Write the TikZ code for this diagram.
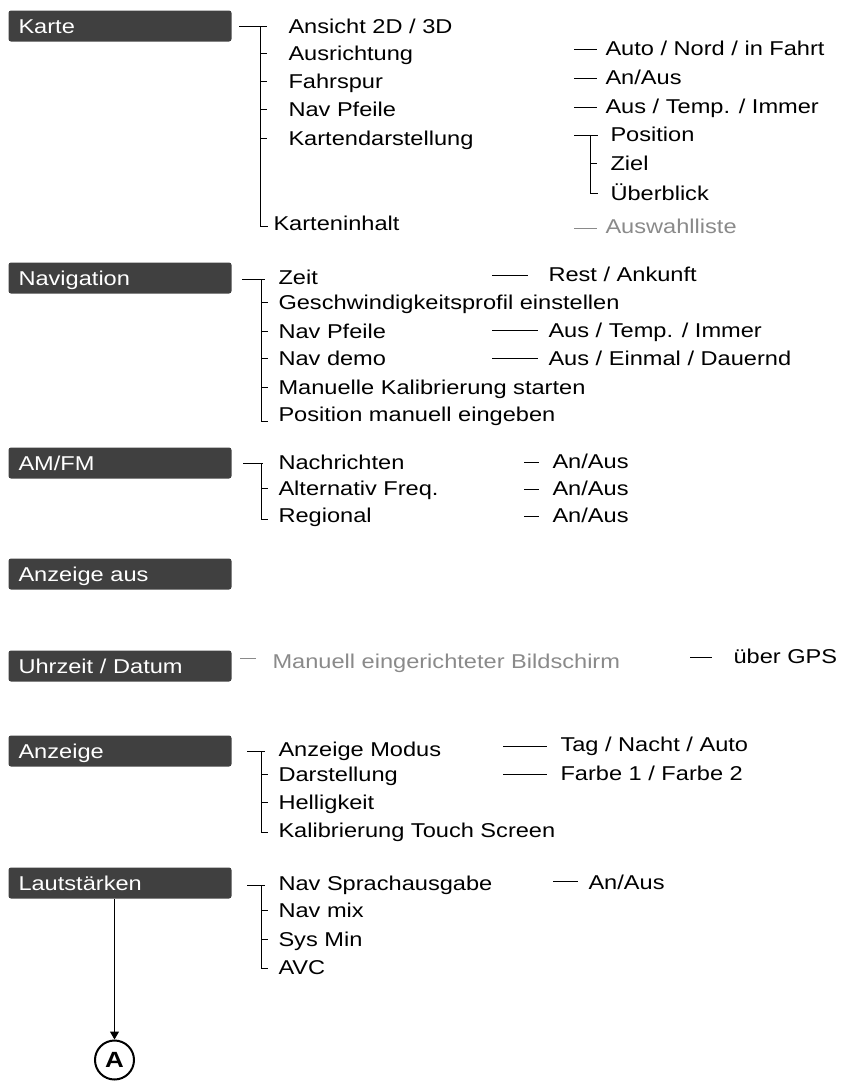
\documentclass[tikz,border=0pt]{standalone}
\usepackage{fontspec}
\setmainfont{Liberation Sans}[FakeStretch=1.18]
\usetikzlibrary{calc,arrows.meta}
\definecolor{boxgray}{HTML}{404040}
\definecolor{greytext}{HTML}{8A8A8A}

\begin{document}
\begin{tikzpicture}[x=1pt,y=-1pt,line width=1pt,
    menu/.style={anchor=north west, fill=boxgray, rounded corners=2.5pt, text=white, minimum width=223pt, minimum height=31pt, text width=203pt, inner xsep=10pt, inner ysep=0pt, align=left, text height=15.5pt, text depth=0pt, font=\fontsize{20}{24}\selectfont},
    item/.style={anchor=west, inner sep=0pt, text height=14pt, text depth=0pt, font=\fontsize{20}{24}\selectfont},
    dim/.style={text=greytext}]
            \useasboundingbox (0,0) rectangle (841,1082);

            \node (karte) at (8,10) [menu] {Karte};
            \node (ansicht) at (288,26) [item] {Ansicht 2D / 3D};
            \node (ausr) at (288,53) [item] {Ausrichtung};
            \node (fahr) at (288,81) [item] {Fahrspur};
            \node (pfeil) at (288,109) [item] {Nav Pfeile};
            \node (darst) at (288,138) [item] {Kartendarstellung};
            \node (inhalt) at (273,223) [item] {Karteninhalt};
            \node (auto) at (605,48) [item] {Auto / Nord / in Fahrt};
            \node (anaus) at (605,77) [item] {An/Aus};
            \node (immer) at (605,106) [item] {Aus / Temp. / Immer};
            \node (pos) at (610,134) [item] {Position};
            \node (ziel) at (610,163) [item] {Ziel};
            \node (ueber) at (610,193) [item] {Überblick};
            \node (auswahl) at (605,226) [item,dim] {Auswahlliste};
            \coordinate (kt) at ($(ansicht.west)+(-28,0)$);
            \coordinate (pt) at ($(pos.west)+(-20,0)$);
            \draw ($(ansicht.west)+(-49,0)$) -- ($(ansicht.west)+(-21,0)$);
            \draw (kt) |- ($(inhalt.west)+(-5,3)$);
            \foreach \n in {ausr,fahr,pfeil,darst} \draw (kt |- \n.west) -- ++(7,0);
            \foreach \n in {auto,anaus,immer} \draw ($(\n.west)+(-31,1)$) -- ($(\n.west)+(-8,1)$);
            \draw ($(pos.west)+(-36,1)$) -- ($(pos.west)+(-12,1)$);
            \draw ($(pt)+(0,1)$) |- ($(ueber.west)+(-12,0)$);
            \draw (pt |- ziel.west) -- ++(7,0);
            \draw [greytext] ($(auswahl.west)+(-31,2)$) -- ($(auswahl.west)+(-8,2)$);

            \node (navi) at (8,262) [menu] {Navigation};
            \node (zeit) at (278,277) [item] {Zeit};
            \node (geschw) at (278,302) [item] {Geschwindigkeitsprofil einstellen};
            \node (npfeil) at (278,331) [item] {Nav Pfeile};
            \node (demo) at (278,358) [item] {Nav demo};
            \node (kalib) at (278,387) [item] {Manuelle Kalibrierung starten};
            \node (posman) at (278,414) [item] {Position manuell eingeben};
            \node (rest) at (548,274) [item] {Rest / Ankunft};
            \node (tempimmer) at (548,330) [item] {Aus / Temp. / Immer};
            \node (dauernd) at (548,358) [item] {Aus / Einmal / Dauernd};
            \coordinate (nt) at ($(zeit.west)+(-17,2)$);
            \draw ($(zeit.west)+(-36,2)$) -- ($(zeit.west)+(-13,2)$);
            \draw (nt) |- ($(posman.west)+(-10,7)$);
            \foreach \n in {geschw,npfeil,demo,kalib} \draw (nt |- \n.west) -- ++(7,0);
            \draw ($(rest.west)+(-56,1)$) -- ($(rest.west)+(-20,1)$);
            \draw ($(tempimmer.west)+(-56,0)$) -- ($(tempimmer.west)+(-10,0)$);
            \draw ($(dauernd.west)+(-56,0)$) -- ($(dauernd.west)+(-10,0)$);

            \node (amfm) at (8,447) [menu] {AM/FM};
            \node (nachr) at (278,462) [item] {Nachrichten};
            \node (alt) at (278,488) [item] {Alternativ Freq.};
            \node (regio) at (278,515) [item] {Regional};
            \node (an1) at (552,461) [item] {An/Aus};
            \node (an2) at (552,488) [item] {An/Aus};
            \node (an3) at (552,515) [item] {An/Aus};
            \coordinate (at) at ($(nachr.west)+(-17,1)$);
            \draw ($(nachr.west)+(-35,1)$) -- ($(nachr.west)+(-15,1)$);
            \draw (at) |- ($(regio.west)+(-10,4)$);
            \draw (at |- alt.west) -- ++(7,0);
            \foreach \n in {an1,an2,an3} \draw ($(\n.west)+(-28,1)$) -- ($(\n.west)+(-13,1)$);

            \node (aus) at (8,558) [menu] {Anzeige aus};

            \node (uhr) at (8,650) [menu] {Uhrzeit / Datum};
            \node (manuell) at (272,661) [item,dim] {Manuell eingerichteter Bildschirm};
            \node (gps) at (733,656) [item] {über GPS};
            \draw [greytext] ($(manuell.west)+(-32,-3)$) -- ($(manuell.west)+(-16,-3)$);
            \draw ($(gps.west)+(-43,1)$) -- ($(gps.west)+(-21,1)$);

            \node (anz) at (8,735) [menu] {Anzeige};
            \node (modus) at (278,749) [item] {Anzeige Modus};
            \node (darstell) at (278,774) [item] {Darstellung};
            \node (hell) at (278,802) [item] {Helligkeit};
            \node (touch) at (278,830) [item] {Kalibrierung Touch Screen};
            \node (tag) at (560,744) [item] {Tag / Nacht / Auto};
            \node (farbe) at (560,773) [item] {Farbe 1 / Farbe 2};
            \coordinate (zt) at ($(modus.west)+(-17,2)$);
            \draw ($(modus.west)+(-31,2)$) -- ($(modus.west)+(-13,2)$);
            \draw (zt) |- ($(touch.west)+(-10,2)$);
            \foreach \n in {darstell,hell} \draw (zt |- \n.west) -- ++(7,0);
            \draw ($(tag.west)+(-57,2)$) -- ($(tag.west)+(-13,2)$);
            \draw ($(farbe.west)+(-57,1)$) -- ($(farbe.west)+(-13,1)$);

            \node (laut) at (8,867) [menu] {Lautstärken};
            \node (sprach) at (278,883) [item] {Nav Sprachausgabe};
            \node (navmix) at (278,910) [item] {Nav mix};
            \node (sysmin) at (278,939) [item] {Sys Min};
            \node (avc) at (278,967) [item] {AVC};
            \node (an4) at (588,882) [item] {An/Aus};
            \coordinate (lt) at ($(sprach.west)+(-17,2)$);
            \draw ($(sprach.west)+(-31,2)$) -- ($(sprach.west)+(-13,2)$);
            \draw (lt) |- ($(avc.west)+(-10,1)$);
            \foreach \n in {navmix,sysmin} \draw (lt |- \n.west) -- ++(7,0);
            \draw ($(an4.west)+(-35,-1)$) -- ($(an4.west)+(-10,-1)$);

            \node (kreisA) at (114.5,1060) [circle, draw, line width=2pt, minimum size=39pt, inner sep=0pt, font=\bfseries\fontsize{22}{24}\selectfont] {A};
            \draw [-{Triangle[width=9pt,length=8pt]}] (kreisA |- laut.south) -- (kreisA);
        \end{tikzpicture}
\end{document}
